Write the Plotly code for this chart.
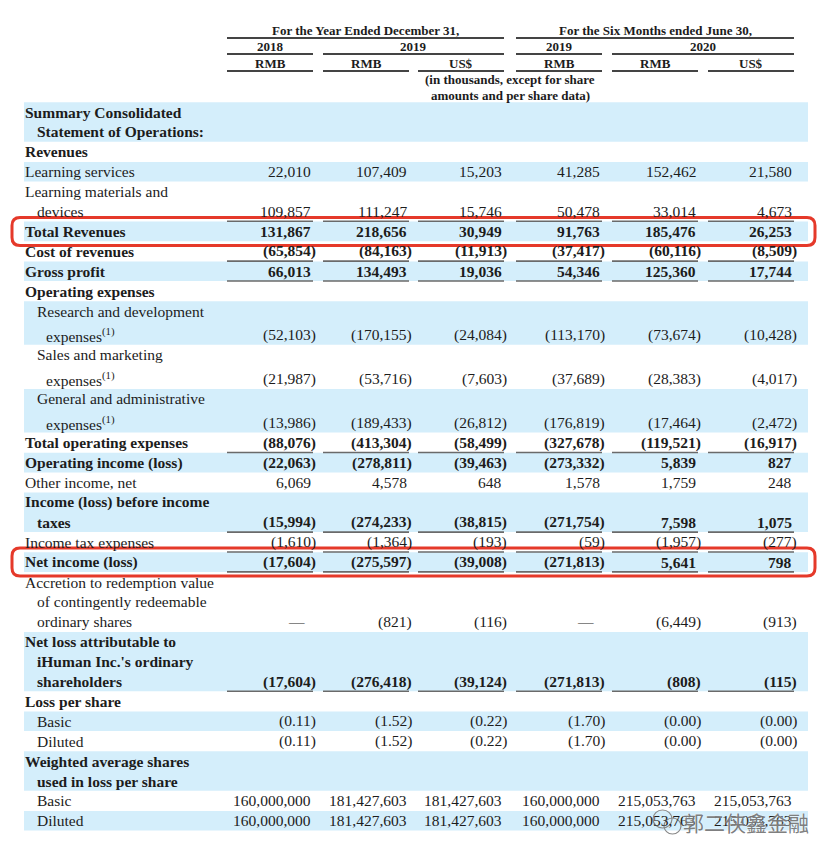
import math
import plotly.graph_objects as go

# header text
group_heads = ["For the Year Ended December 31,", "For the Six Months ended June 30,"]
year_heads = ["2018", "2019", "2019", "2020"]
currency_heads = ["RMB", "RMB", "US$", "RMB", "RMB", "US$"]
unit_note = ["(in thousands, except for share", "amounts and per share data)"]

# row values (RMB / US$ thousands, except per share)
learning_services = [22010, 107409, 15203, 41285, 152462, 21580]
learning_materials = [109857, 111247, 15746, 50478, 33014, 4673]
total_revenues = [131867, 218656, 30949, 91763, 185476, 26253]
cost_of_revenues = [-65854, -84163, -11913, -37417, -60116, -8509]
gross_profit = [66013, 134493, 19036, 54346, 125360, 17744]
rd_expenses = [-52103, -170155, -24084, -113170, -73674, -10428]
sm_expenses = [-21987, -53716, -7603, -37689, -28383, -4017]
ga_expenses = [-13986, -189433, -26812, -176819, -17464, -2472]
total_opex = [-88076, -413304, -58499, -327678, -119521, -16917]
operating_income = [-22063, -278811, -39463, -273332, 5839, 827]
other_income = [6069, 4578, 648, 1578, 1759, 248]
income_before_tax = [-15994, -274233, -38815, -271754, 7598, 1075]
income_tax = [-1610, -1364, -193, -59, -1957, -277]
net_income = [-17604, -275597, -39008, -271813, 5641, 798]
accretion = [None, -821, -116, None, -6449, -913]
net_loss_attrib = [-17604, -276418, -39124, -271813, -808, -115]
eps_basic = [-0.11, -1.52, -0.22, -1.70, -0.0, -0.0]
eps_diluted = [-0.11, -1.52, -0.22, -1.70, -0.0, -0.0]
shares_basic = [160000000, 181427603, 181427603, 160000000, 215053763, 215053763]
shares_diluted = [160000000, 181427603, 181427603, 160000000, 215053763, 215053763]

SUP = "expenses<sup>(1)</sup>"

# label lines, values, bold, blue band, indent level, underline, red box
rows = [
    (["Summary Consolidated", "Statement of Operations:"], None, True, True, 0, False, False),
    (["Revenues"], None, True, False, 0, False, False),
    (["Learning services"], learning_services, False, True, 0, False, False),
    (["Learning materials and", "devices"], learning_materials, False, False, 0, True, False),
    (["Total Revenues"], total_revenues, True, True, 0, False, True),
    (["Cost of revenues"], cost_of_revenues, True, False, 0, True, False),
    (["Gross profit"], gross_profit, True, True, 0, True, False),
    (["Operating expenses"], None, True, False, 0, False, False),
    (["Research and development", SUP], rd_expenses, False, True, 1, False, False),
    (["Sales and marketing", SUP], sm_expenses, False, False, 1, False, False),
    (["General and administrative", SUP], ga_expenses, False, True, 1, False, False),
    (["Total operating expenses"], total_opex, True, False, 0, True, False),
    (["Operating income (loss)"], operating_income, True, True, 0, False, False),
    (["Other income, net"], other_income, False, False, 0, False, False),
    (["Income (loss) before income", "taxes"], income_before_tax, True, True, 0, True, False),
    (["Income tax expenses"], income_tax, False, False, 0, True, False),
    (["Net income (loss)"], net_income, True, True, 0, True, True),
    (["Accretion to redemption value", "of contingently redeemable", "ordinary shares"], accretion, False, False, 0, False, False),
    (["Net loss attributable to", "iHuman Inc.'s ordinary", "shareholders"], net_loss_attrib, True, True, 0, True, False),
    (["Loss per share"], None, True, False, 0, False, False),
    (["Basic"], eps_basic, False, True, 1, False, False),
    (["Diluted"], eps_diluted, False, False, 1, False, False),
    (["Weighted average shares", "used in loss per share"], None, True, True, 0, False, False),
    (["Basic"], shares_basic, False, False, 1, False, False),
    (["Diluted"], shares_diluted, False, True, 1, False, False),
]

FONT = "Liberation Serif"
INK = "#1c1c1c"
BLUE = "#d4eefb"
RED = "#e5392a"
col_right = [313, 409, 504, 602, 698, 794]
COL_W = 86
OFF = 8  # page body margin


def fmt(v, is_eps=False):
    if v is None:
        return "—"
    neg = math.copysign(1, v) < 0
    s = f"{abs(v):,.2f}" if is_eps else f"{abs(v):,}"
    return f"({s})" if neg else s


def rounded_rect(x0, y0, x1, y1, r):
    return (f"M{x0 + r},{y0} L{x1 - r},{y0} Q{x1},{y0} {x1},{y0 + r} "
            f"L{x1},{y1 - r} Q{x1},{y1} {x1 - r},{y1} L{x0 + r},{y1} "
            f"Q{x0},{y1} {x0},{y1 - r} L{x0},{y0 + r} Q{x0},{y0} {x0 + r},{y0} Z")


fig = go.Figure()
ann = []
shapes = []


def text(x, y, s, size=15.5, bold=False, anchor="left", color=INK, family=FONT):
    if bold:
        s = f"<b>{s}</b>"
    ann.append(dict(x=x, y=y, xref="x", yref="y", text=s, showarrow=False,
                    xanchor=anchor, yanchor="middle",
                    font=dict(family=family, size=size, color=color)))


def hline(x0, x1, y, color="#555", width=1.8):
    shapes.append(dict(type="line", xref="x", yref="y", x0=x0, x1=x1, y0=y, y1=y,
                       line=dict(color=color, width=width), layer="above"))


# header
col_left = [r - COL_W for r in col_right]
text((col_left[0] + col_right[2]) / 2, 30, group_heads[0], 13, True, "center")
text((col_left[3] + col_right[5]) / 2, 30, group_heads[1], 13, True, "center")
hline(col_left[0], col_right[2], 38, "#444", 2)
hline(col_left[3], col_right[5], 38, "#444", 2)
year_spans = [(0, 0), (1, 2), (3, 3), (4, 5)]
for yh, (a, b) in zip(year_heads, year_spans):
    text((col_left[a] + col_right[b]) / 2, 46, yh, 13, True, "center")
    hline(col_left[a], col_right[b], 54, "#444", 2)
for i, ch in enumerate(currency_heads):
    text(col_right[i] - COL_W / 2, 63, ch, 13, True, "center")
    hline(col_left[i], col_right[i], 71, "#444", 2)
note_x = (col_left[2] + col_right[3]) / 2
text(note_x, 79, unit_note[0], 13, True, "center")
text(note_x, 95, unit_note[1], 13, True, "center")

# body
y = 112
step = 19.9
first = True
for label, vals, bold, band, level, uline, box in rows:
    ys = []
    for k, line in enumerate(label):
        if not first:
            y += 24 if "<sup>" in line else step
        first = False
        ys.append(y)
        x = 23 + 12 * level + (0 if k == 0 else (12 if level == 0 else 9))
        text(x, y, line, 15.5, bold)
    if band:
        shapes.append(dict(type="rect", xref="x", yref="y", x0=24, x1=808,
                           y0=ys[0] - 9.8, y1=ys[-1] + 9.8,
                           fillcolor=BLUE, line=dict(width=0), layer="below"))
    if vals is not None:
        is_eps = vals is eps_basic or vals is eps_diluted
        for i, v in enumerate(vals):
            s = fmt(v, is_eps)
            if v is None:
                text(col_right[i] - 6, ys[-1], s, 15.5, bold, "right")
            elif math.copysign(1, v) < 0:
                text(col_right[i] + 5, ys[-1], s, 15.5, bold, "right")
            else:
                text(col_right[i], ys[-1], s, 15.5, bold, "right")
    if uline:
        for i in range(6):
            hline(col_left[i], col_right[i], ys[-1] + 9.8, "#6a6a6a", 1.6)
    if box:
        shapes.append(dict(type="path", xref="x", yref="y",
                           path=rounded_rect(12, ys[0] - 14, 815, ys[-1] + 14, 8),
                           line=dict(color=RED, width=3), layer="above"))

# watermark
shapes.append(dict(type="circle", xref="x", yref="y", x0=653, x1=672, y0=810, y1=828,
                   line=dict(color="#888", width=1.2), layer="above"))
shapes.append(dict(type="circle", xref="x", yref="y", x0=664, x1=681, y0=818, y1=834,
                   line=dict(color="#888", width=1.2), layer="above"))
ann.append(dict(x=746, y=822, xref="x", yref="y", text="郭二侠鑫金融", showarrow=False,
                xanchor="center", yanchor="middle",
                font=dict(family="Noto Sans CJK SC", size=21, color="rgba(110,110,110,0.9)",
                          shadow="0px 0px 2px white")))

fig.update_layout(
    width=829, height=858,
    margin=dict(l=0, r=0, t=0, b=0),
    paper_bgcolor="white", plot_bgcolor="white",
    xaxis=dict(range=[OFF, 829 + OFF], visible=False, fixedrange=True),
    yaxis=dict(range=[858 + OFF, OFF], visible=False, fixedrange=True),
    annotations=ann, shapes=shapes, showlegend=False,
)

fig.write_html("out.html")
